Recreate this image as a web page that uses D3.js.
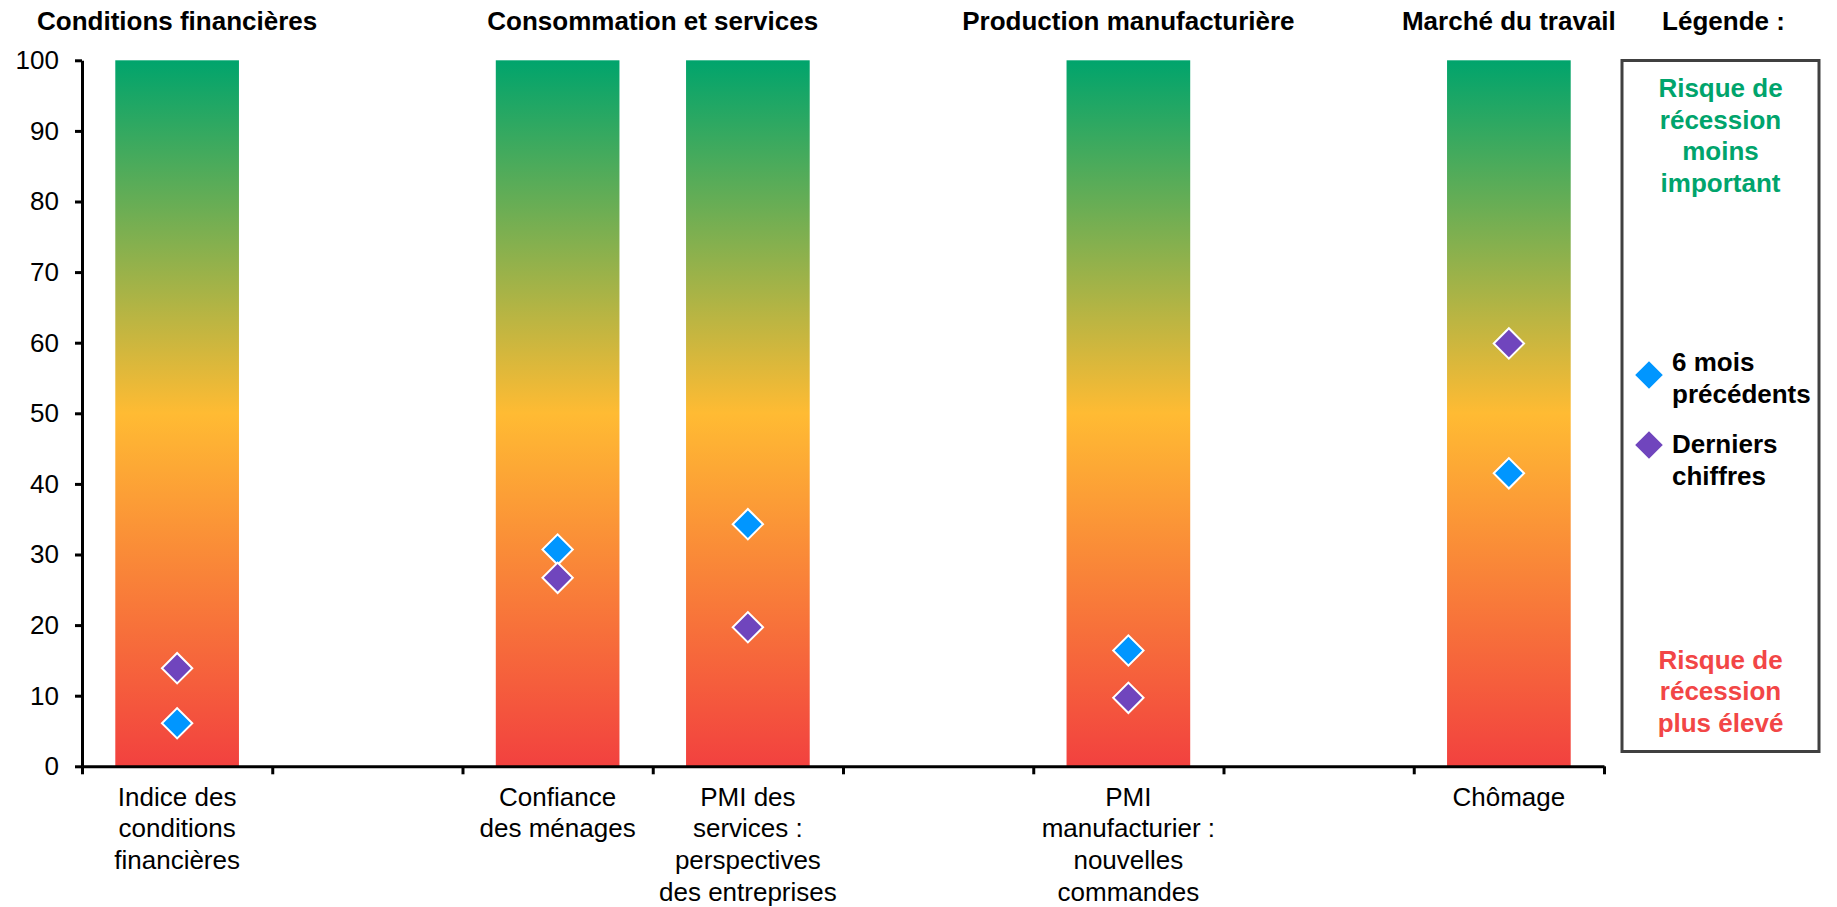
<!DOCTYPE html>
<html><head><meta charset="utf-8">
<script src="https://cdn.jsdelivr.net/npm/d3@7"></script>
<style>
html,body{margin:0;padding:0;background:#fff;}
svg text{font-family:"Liberation Sans",Arial,sans-serif;}
</style></head>
<body><svg id="c" width="1837" height="907"></svg>
<script>
// ---- data ----
const slots = [0,1,2,3,4,5,6,7];
const categories = ["Indice des\nconditions\nfinancières", "", "Confiance\ndes ménages",
  "PMI des\nservices :\nperspectives\ndes entreprises", "", "PMI\nmanufacturier :\nnouvelles\ncommandes", "", "Chômage"];
const hasBar = [true,false,true,true,false,true,false,true];
const sixMonths = [6.1, null, 30.7, 34.3, null, 16.4, null, 41.5];
const latest = [13.9, null, 26.7, 19.7, null, 9.7, null, 59.9];
const groupTitles = ["Conditions financières","Consommation et services","Production manufacturière","Marché du travail"];
const groupCenters = [0.5, 3, 5.5, 7.5];
const yTicks = [0,10,20,30,40,50,60,70,80,90,100];
const legendTitle = "Légende :";
const legendTop = ["Risque de","récession","moins","important"];
const legendBottom = ["Risque de","récession","plus élevé"];
const seriesNames = [["6 mois","précédents"],["Derniers","chiffres"]];
const seriesColors = ["#0096FF","#7045BD"];

// ---- layout ----
const svg = d3.select("#c");
const x0 = 82, x1 = 1604, yTop = 60.3, yBot = 766.3;
const y = d3.scaleLinear().domain([0,100]).range([yBot,yTop]);
const xb = d3.scaleBand().domain(slots).range([x0,x1]).paddingInner(0.35).paddingOuter(0.175);
const xe = d3.scaleLinear().domain([0,8]).range([x0,x1]);

const defs = svg.append("defs");
const grad = defs.append("linearGradient").attr("id","g").attr("x1",0).attr("y1",0).attr("x2",0).attr("y2",1);
[[0,"#00A46C"],[0.5,"#FFBB33"],[1,"#F2413F"]].forEach(s=>grad.append("stop").attr("offset",s[0]).attr("stop-color",s[1]));

// bars
svg.append("g").selectAll("rect").data(slots.filter(i=>hasBar[i])).join("rect")
  .attr("x",i=>xb(i)).attr("width",xb.bandwidth())
  .attr("y",y(100)).attr("height",y(0)-y(100)).attr("fill","url(#g)");

// y axis
const ya = svg.append("g").attr("transform",`translate(${x0},0)`)
  .call(d3.axisLeft(y).tickValues(yTicks).tickSize(7).tickSizeOuter(0).tickPadding(16));
ya.select(".domain").attr("stroke","#000").attr("stroke-width",3);
ya.selectAll(".tick line").attr("stroke","#000").attr("stroke-width",3);
ya.selectAll(".tick text").attr("font-size",26).attr("fill","#000").attr("font-family","Liberation Sans, Arial, sans-serif");

// x axis
const xa = svg.append("g").attr("transform",`translate(0,${yBot})`)
  .call(d3.axisBottom(xe).tickValues(d3.range(0,9)).tickSize(8).tickSizeOuter(0).tickFormat(""));
xa.select(".domain").attr("stroke","#000").attr("stroke-width",3);
xa.selectAll(".tick line").attr("stroke","#000").attr("stroke-width",3);

// category labels
const cl = svg.append("g").selectAll("text").data(slots.filter(i=>categories[i])).join("text")
  .attr("x",i=>xb(i)+xb.bandwidth()/2).attr("y",805.5).attr("text-anchor","middle")
  .attr("font-size",26).attr("fill","#000");
cl.each(function(i){
  const t=d3.select(this);
  categories[i].split("\n").forEach((ln,k)=>t.append("tspan").attr("x",xb(i)+xb.bandwidth()/2).attr("y",805.5+k*31.8).text(ln));
});

// markers
const diamond = d3.symbol(d3.symbolSquare, 460);
[sixMonths, latest].forEach((ser,si)=>{
  svg.append("g").selectAll("path").data(slots.filter(i=>ser[i]!=null)).join("path")
    .attr("d",diamond)
    .attr("transform",i=>`translate(${xb(i)+xb.bandwidth()/2},${y(ser[i])}) rotate(45)`)
    .attr("fill",seriesColors[si]).attr("stroke","#fff").attr("stroke-width",2);
});

// group titles
svg.append("g").selectAll("text").data(groupTitles).join("text")
  .attr("x",(d,i)=>xe(groupCenters[i])).attr("y",30).attr("text-anchor","middle")
  .attr("font-size",26).attr("font-weight","bold").attr("fill","#000").text(d=>d);

// legend
const lx = 1622, lw = 197, ly = 60.5, lh = 691, lc = lx+lw/2;
svg.append("text").attr("x",lc+3).attr("y",30).attr("text-anchor","middle")
  .attr("font-size",26).attr("font-weight","bold").attr("fill","#000").text(legendTitle);
svg.append("rect").attr("x",lx).attr("y",ly).attr("width",lw).attr("height",lh)
  .attr("fill","none").attr("stroke","#404040").attr("stroke-width",3);
svg.append("g").selectAll("text").data(legendTop).join("text")
  .attr("x",lc).attr("y",(d,i)=>97+i*31.5).attr("text-anchor","middle")
  .attr("font-size",26).attr("font-weight","bold").attr("fill","#00A46C").text(d=>d);
svg.append("g").selectAll("text").data(legendBottom).join("text")
  .attr("x",lc).attr("y",(d,i)=>668.5+i*31.7).attr("text-anchor","middle")
  .attr("font-size",26).attr("font-weight","bold").attr("fill","#F24646").text(d=>d);
const legDiamond = d3.symbol(d3.symbolSquare, 380);
seriesNames.forEach((nm,si)=>{
  const cy = 375 + si*70;
  svg.append("path").attr("d",legDiamond).attr("transform",`translate(1649,${cy}) rotate(45)`).attr("fill",seriesColors[si]);
  nm.forEach((ln,k)=>svg.append("text").attr("x",1672).attr("y",371+si*82+k*31.5)
    .attr("font-size",26).attr("font-weight","bold").attr("fill","#000").text(ln));
});
</script></body></html>
